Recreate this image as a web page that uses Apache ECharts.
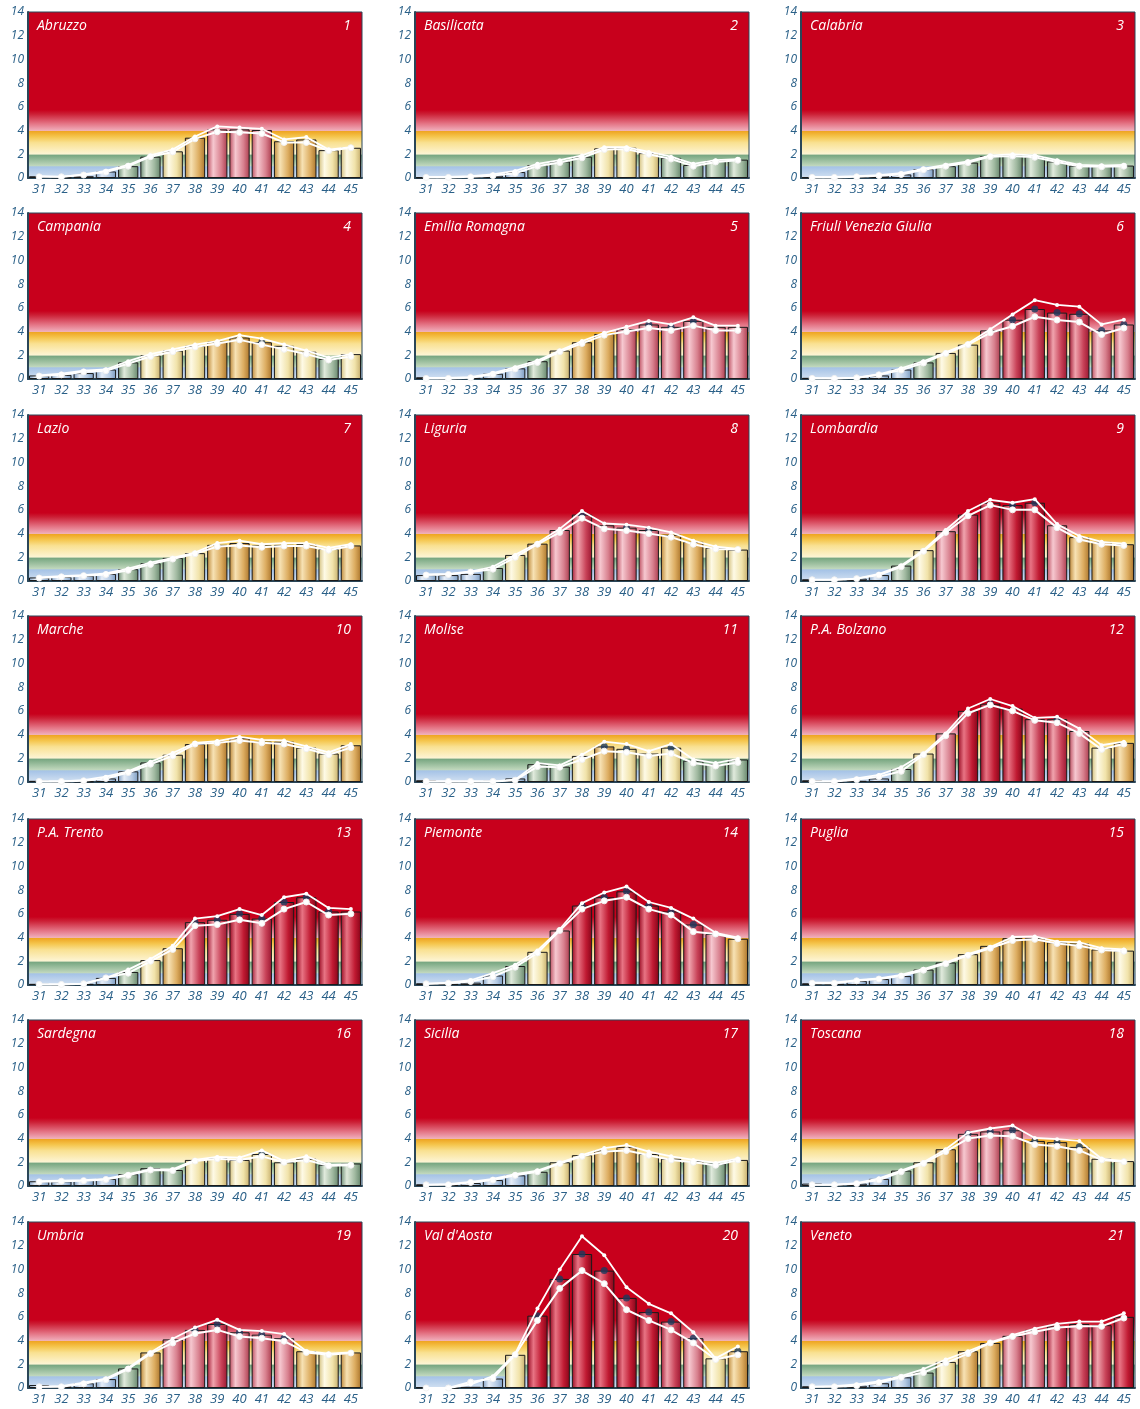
<!DOCTYPE html>
<html>
<head>
<meta charset="utf-8">
<script src="https://cdn.jsdelivr.net/npm/echarts@6/dist/echarts.min.js"></script>
<style>
html,body{margin:0;padding:0;background:#ffffff;}
#chart{width:1140px;height:1409px;}
</style>
</head>
<body>
<div id="chart"></div>
<script>
// ---------- DATA ----------
const weeks = ['31','32','33','34','35','36','37','38','39','40','41','42','43','44','45'];
const yTicks = [0, 2, 4, 6, 8, 10, 12, 14];

const abruzzoBars  = [0.15,0.05,0.15,0.55,1.0,1.8,2.25,3.4,4.1,4.1,4.05,3.1,3.25,2.35,2.55];
const abruzzoUpper = [0.15,0.1,0.3,0.6,1.1,1.9,2.4,3.5,4.35,4.25,4.15,3.25,3.45,2.4,2.6];
const abruzzoLower = [0.1,0.1,0.25,0.5,1.0,1.8,2.2,3.3,3.9,3.85,3.75,3.0,3.0,2.3,2.55];

const basilicataBars  = [0.05,0.05,0.1,0.2,0.5,1.1,1.4,1.8,2.5,2.55,2.1,1.7,1.1,1.45,1.55];
const basilicataUpper = [0.1,0.1,0.15,0.3,0.6,1.2,1.5,1.9,2.6,2.6,2.2,1.8,1.2,1.5,1.6];
const basilicataLower = [0.05,0.05,0.1,0.2,0.4,1.0,1.3,1.7,2.4,2.45,2.0,1.6,1.0,1.35,1.5];

const calabriaBars  = [0.05,0.05,0.1,0.2,0.3,0.75,1.0,1.3,1.85,1.9,1.8,1.4,1.05,1.0,1.05];
const calabriaUpper = [0.1,0.1,0.15,0.25,0.4,0.8,1.1,1.4,1.9,2.0,1.9,1.5,1.1,1.05,1.1];
const calabriaLower = [0.05,0.05,0.1,0.2,0.3,0.7,1.0,1.3,1.8,1.85,1.75,1.35,1.0,0.95,1.0];

const campaniaBars  = [0.3,0.35,0.5,0.8,1.4,2.0,2.4,2.8,3.15,3.5,3.1,2.8,2.3,1.7,2.1];
const campaniaUpper = [0.3,0.45,0.7,0.8,1.5,2.1,2.5,2.9,3.2,3.7,3.4,2.9,2.4,1.8,2.1];
const campaniaLower = [0.25,0.35,0.6,0.7,1.3,1.9,2.3,2.7,3.0,3.3,2.9,2.5,2.1,1.6,1.9];

const emiliaBars  = [0.15,0.05,0.1,0.45,0.9,1.5,2.4,3.1,3.8,4.2,4.6,4.4,4.9,4.4,4.4];
const emiliaUpper = [0.1,0.1,0.15,0.5,1.0,1.55,2.4,3.2,3.9,4.4,4.9,4.6,5.2,4.5,4.5];
const emiliaLower = [0.05,0.05,0.1,0.4,0.85,1.4,2.3,3.0,3.7,4.0,4.3,4.1,4.5,4.1,4.1];

const friuliBars  = [0.1,0.05,0.1,0.3,0.8,1.4,2.2,2.9,4.1,5.0,5.9,5.6,5.5,4.1,4.6];
const friuliUpper = [0.1,0.05,0.1,0.4,0.9,1.5,2.25,3.0,4.2,5.45,6.65,6.25,6.1,4.6,5.0];
const friuliLower = [0.05,0.05,0.1,0.35,0.75,1.35,2.15,2.9,3.9,4.45,5.25,4.97,4.8,3.75,4.3];

const lazioBars  = [0.3,0.35,0.45,0.6,1.0,1.5,1.95,2.35,3.05,3.2,3.0,3.05,3.1,2.7,3.0];
const lazioUpper = [0.3,0.4,0.5,0.65,1.05,1.55,1.95,2.4,3.2,3.4,3.1,3.2,3.2,2.8,3.1];
const lazioLower = [0.25,0.35,0.45,0.55,0.9,1.4,1.85,2.3,2.9,3.0,2.85,2.95,2.95,2.6,2.95];

const liguriaBars  = [0.5,0.5,0.6,1.1,2.2,3.15,4.3,5.6,4.7,4.5,4.3,3.9,3.3,2.8,2.65];
const liguriaUpper = [0.55,0.6,0.8,1.2,2.2,3.2,4.4,5.9,4.85,4.75,4.5,4.1,3.4,2.9,2.7];
const liguriaLower = [0.5,0.55,0.75,1.0,2.0,3.1,4.1,5.3,4.4,4.25,4.0,3.7,3.1,2.7,2.65];

const lombardiaBars  = [0.15,0.1,0.2,0.5,1.3,2.6,4.2,5.6,6.6,6.4,6.6,4.7,3.7,3.3,3.1];
const lombardiaUpper = [0.1,0.1,0.2,0.6,1.3,2.6,4.3,5.9,6.85,6.6,6.9,4.8,3.8,3.3,3.15];
const lombardiaLower = [0.1,0.1,0.2,0.5,1.2,2.5,4.1,5.5,6.4,6.0,6.0,4.5,3.5,3.1,3.0];

const marcheBars  = [0.1,0.05,0.05,0.3,0.9,1.65,2.3,3.2,3.4,3.7,3.4,3.4,2.9,2.4,3.1];
const marcheUpper = [0.05,0.05,0.15,0.45,0.9,1.7,2.45,3.3,3.45,3.8,3.55,3.5,3.0,2.5,3.2];
const marcheLower = [0.05,0.05,0.1,0.3,0.8,1.5,2.2,3.2,3.3,3.5,3.3,3.2,2.8,2.3,2.9];

const moliseBars  = [0.15,0.05,0.05,0.1,0.3,1.5,1.3,2.2,3.0,2.8,2.4,2.9,1.8,1.5,1.9];
const moliseUpper = [0.05,0.05,0.05,0.05,0.2,1.6,1.4,2.3,3.4,3.2,2.6,3.2,1.9,1.6,1.95];
const moliseLower = [0.05,0.05,0.05,0.05,0.15,1.3,1.25,1.9,2.6,2.5,2.2,2.4,1.6,1.35,1.65];

const bolzanoBars  = [0.15,0.05,0.1,0.3,1.1,2.4,4.1,6.0,6.6,6.2,5.3,5.3,4.3,2.9,3.3];
const bolzanoUpper = [0.05,0.05,0.3,0.6,1.25,2.4,4.1,6.2,7.0,6.4,5.4,5.5,4.5,3.1,3.4];
const bolzanoLower = [0.05,0.05,0.2,0.45,0.9,2.3,3.9,5.8,6.5,6.0,5.2,5.0,4.1,2.75,3.2];

const trentoBars  = [0.1,0.05,0.1,0.6,1.1,2.1,3.1,5.3,5.5,6.0,5.6,7.0,7.4,6.2,6.2];
const trentoUpper = [0.05,0.05,0.1,0.6,1.3,2.2,3.3,5.6,5.8,6.4,5.9,7.4,7.7,6.5,6.4];
const trentoLower = [0.05,0.05,0.1,0.6,1.0,2.0,3.0,5.0,5.1,5.5,5.2,6.4,7.0,5.9,6.0];

const piemonteBars  = [0.15,0.1,0.2,0.8,1.6,2.8,4.6,6.7,7.4,7.9,6.7,6.2,5.1,4.3,3.9];
const piemonteUpper = [0.1,0.2,0.4,1.0,1.7,2.9,4.7,6.9,7.8,8.3,7.0,6.5,5.6,4.4,4.0];
const piemonteLower = [0.1,0.15,0.3,0.7,1.5,2.7,4.6,6.4,7.1,7.4,6.4,5.9,4.5,4.3,3.9];

const pugliaBars  = [0.15,0.1,0.35,0.5,0.75,1.3,1.9,2.6,3.3,3.95,3.95,3.6,3.5,3.0,2.9];
const pugliaUpper = [0.2,0.2,0.4,0.55,0.85,1.35,1.9,2.6,3.2,4.05,4.1,3.65,3.6,3.1,3.0];
const pugliaLower = [0.15,0.15,0.35,0.5,0.75,1.25,1.8,2.5,3.1,3.75,3.85,3.5,3.3,2.95,2.85];

const sardegnaBars  = [0.4,0.4,0.5,0.6,1.0,1.5,1.35,2.2,2.35,2.2,2.7,2.0,2.3,1.8,1.9];
const sardegnaUpper = [0.4,0.45,0.5,0.6,1.0,1.4,1.4,2.2,2.45,2.4,3.0,2.1,2.5,1.8,1.85];
const sardegnaLower = [0.35,0.4,0.45,0.55,0.9,1.35,1.3,2.1,2.3,2.2,2.5,2.0,2.2,1.7,1.75];

const siciliaBars  = [0.15,0.1,0.25,0.5,0.9,1.2,2.0,2.6,3.0,3.3,2.7,2.3,2.1,1.9,2.2];
const siciliaUpper = [0.1,0.15,0.35,0.6,1.0,1.3,1.95,2.6,3.2,3.45,2.9,2.5,2.2,1.95,2.3];
const siciliaLower = [0.1,0.1,0.3,0.5,0.9,1.2,1.9,2.5,2.9,3.0,2.6,2.2,2.0,1.75,2.2];

const toscanaBars  = [0.2,0.1,0.2,0.6,1.3,2.0,3.1,4.4,4.6,4.7,3.8,3.7,3.3,2.3,2.1];
const toscanaUpper = [0.1,0.1,0.25,0.65,1.3,2.0,3.1,4.5,4.85,5.1,4.05,3.95,3.8,2.3,2.1];
const toscanaLower = [0.1,0.1,0.2,0.5,1.2,1.9,2.9,4.0,4.25,4.2,3.5,3.35,3.0,2.2,2.05];

const umbriaBars  = [0.25,0.15,0.4,0.75,1.65,3.0,4.1,4.9,5.4,4.7,4.5,4.2,3.1,2.9,3.0];
const umbriaUpper = [0.1,0.15,0.45,0.8,1.7,3.0,4.15,5.1,5.75,4.9,4.8,4.55,3.1,2.9,3.0];
const umbriaLower = [0.1,0.1,0.35,0.7,1.6,2.9,3.8,4.6,4.9,4.35,4.2,3.95,3.0,2.8,2.95];

const aostaBars  = [0.05,0.0,0.1,0.8,2.8,6.1,9.2,11.3,9.9,7.6,6.4,5.6,4.2,2.5,3.1];
const aostaUpper = [0.0,0.0,0.3,1.0,2.9,6.7,10.0,12.8,11.2,8.5,7.1,6.3,4.7,2.5,3.5];
const aostaLower = [0.0,0.0,0.5,0.8,2.8,5.7,8.4,9.9,8.8,6.6,5.7,4.9,3.8,2.4,2.8];

const venetoBars  = [0.15,0.1,0.2,0.4,0.9,1.3,2.2,3.1,3.8,4.4,4.9,5.2,5.4,5.3,6.0];
const venetoUpper = [0.1,0.15,0.3,0.55,1.0,1.6,2.4,3.1,3.85,4.45,5.0,5.4,5.6,5.6,6.3];
const venetoLower = [0.1,0.1,0.2,0.45,0.9,1.3,2.1,2.9,3.8,4.35,4.75,5.1,5.2,5.2,5.9];

const regionNames = ['Abruzzo','Basilicata','Calabria','Campania','Emilia Romagna','Friuli Venezia Giulia',
  'Lazio','Liguria','Lombardia','Marche','Molise','P.A. Bolzano','P.A. Trento','Piemonte','Puglia',
  'Sardegna','Sicilia','Toscana','Umbria',"Val d'Aosta",'Veneto'];
const regionNumbers = ['1','2','3','4','5','6','7','8','9','10','11','12','13','14','15','16','17','18','19','20','21'];

const panelBars  = [abruzzoBars,basilicataBars,calabriaBars,campaniaBars,emiliaBars,friuliBars,lazioBars,liguriaBars,lombardiaBars,marcheBars,moliseBars,bolzanoBars,trentoBars,piemonteBars,pugliaBars,sardegnaBars,siciliaBars,toscanaBars,umbriaBars,aostaBars,venetoBars];
const panelUpper = [abruzzoUpper,basilicataUpper,calabriaUpper,campaniaUpper,emiliaUpper,friuliUpper,lazioUpper,liguriaUpper,lombardiaUpper,marcheUpper,moliseUpper,bolzanoUpper,trentoUpper,piemonteUpper,pugliaUpper,sardegnaUpper,siciliaUpper,toscanaUpper,umbriaUpper,aostaUpper,venetoUpper];
const panelLower = [abruzzoLower,basilicataLower,calabriaLower,campaniaLower,emiliaLower,friuliLower,lazioLower,liguriaLower,lombardiaLower,marcheLower,moliseLower,bolzanoLower,trentoLower,piemonteLower,pugliaLower,sardegnaLower,siciliaLower,toscanaLower,umbriaLower,aostaLower,venetoLower];

// ---------- STYLE ----------
const YMAX = 14;
const off = v => (YMAX - v) / YMAX;
const LG = echarts.graphic.LinearGradient;

function bgGradient() {
  return new LG(0, 0, 0, 1, [
    {offset: 0, color: '#c8001c'},
    {offset: off(5.75), color: '#c8001c'},
    {offset: off(5.4), color: '#cc2036'},
    {offset: off(5.0), color: '#d84a5e'},
    {offset: off(4.6), color: '#e47485'},
    {offset: off(4.12), color: '#eea4b2'},
    {offset: off(4.0), color: '#f0b4b4'},
    {offset: off(4.0), color: '#eea21e'},
    {offset: off(3.5), color: '#f5c64e'},
    {offset: off(3.0), color: '#f9e192'},
    {offset: off(2.02), color: '#fdf5d6'},
    {offset: off(2.0), color: '#74a47e'},
    {offset: off(1.02), color: '#c4dac0'},
    {offset: off(1.0), color: '#a4c2e6'},
    {offset: 1, color: '#d4e2f2'}
  ]);
}

const barPalettes = [
  {max: 1,   c: ['#7f9fc4', '#e6eef8', '#b3c9e3', '#7b9bc0']},
  {max: 2,   c: ['#6c8c74', '#e0eadc', '#a0b9a0', '#66866c']},
  {max: 3,   c: ['#d2be7a', '#fefae6', '#f1e3aa', '#c6ae6c']},
  {max: 4,   c: ['#bc8636', '#f7e2b4', '#dcac60', '#ac762c']},
  {max: 5,   c: ['#bc4c5e', '#f6c8d0', '#d8808e', '#ac3c4e']},
  {max: 6,   c: ['#a41c36', '#f0a4ae', '#c84258', '#9a1630']},
  {max: 99,  c: ['#960820', '#e87484', '#c01a32', '#860418']}
];
function barColor(v) {
  const p = barPalettes.find(b => v < b.max).c;
  return new LG(0, 0, 1, 0, [
    {offset: 0, color: p[0]},
    {offset: 0.3, color: p[1]},
    {offset: 0.7, color: p[2]},
    {offset: 1, color: p[3]}
  ]);
}

const colLefts = [28, 415, 801];
const rowTops = [12, 213, 415, 616, 819, 1020, 1222];
const GW = 334, GH = 166;
const axisCol = '#2a4658';
const labelCol = '#2a6088';
const FONT = "'Open Sans', sans-serif";

const grids = [], xAxes = [], yAxes = [], series = [], titles = [];

regionNames.forEach((name, i) => {
  const col = i % 3, row = Math.floor(i / 3);
  const left = colLefts[col], top = rowTops[row];
  grids.push({
    left: left, top: top, width: GW, height: GH,
    show: true, backgroundColor: bgGradient(),
    borderColor: axisCol, borderWidth: 1
  });
  xAxes.push({
    type: 'category', gridIndex: i, data: weeks, boundaryGap: true,
    axisLine: {lineStyle: {color: axisCol, width: 2}},
    axisTick: {show: false},
    axisLabel: {color: labelCol, fontSize: 13, fontStyle: 'italic', fontFamily: FONT, margin: 5, interval: 0}
  });
  yAxes.push({
    type: 'value', gridIndex: i, min: 0, max: YMAX, interval: 2,
    axisLine: {show: true, lineStyle: {color: axisCol, width: 2}},
    axisTick: {show: false},
    splitLine: {show: false},
    axisLabel: {color: labelCol, fontSize: 12, fontStyle: 'italic', fontFamily: FONT, margin: 4,
      formatter: v => yTicks.indexOf(v) >= 0 ? String(v) : ''}
  });

  const bars = panelBars[i], up = panelUpper[i], lo = panelLower[i];
  series.push({
    type: 'bar', xAxisIndex: i, yAxisIndex: i, barCategoryGap: '9%', z: 2,
    data: bars.map(v => ({value: v, itemStyle: {color: barColor(v)}})),
    itemStyle: {borderColor: '#1a1a1a', borderWidth: 1},
    silent: true
  });
  series.push({
    type: 'scatter', xAxisIndex: i, yAxisIndex: i, z: 3, symbolSize: 7,
    itemStyle: {color: '#1c3a5e'},
    data: bars.map((v, k) => (up[k] - lo[k] >= 0.5 ? v : null)),
    silent: true
  });
  series.push({
    type: 'line', xAxisIndex: i, yAxisIndex: i, z: 4, data: lo,
    symbol: 'circle', symbolSize: 6, showSymbol: true,
    lineStyle: {color: '#ffffff', width: 2},
    itemStyle: {color: '#ffffff', borderColor: '#f2f2f2'},
    silent: true
  });
  series.push({
    type: 'line', xAxisIndex: i, yAxisIndex: i, z: 5, data: up,
    symbol: 'circle', symbolSize: 4, showSymbol: true,
    lineStyle: {color: '#ffffff', width: 1.8},
    itemStyle: {color: '#ffffff'},
    silent: true
  });

  titles.push({
    text: name, left: left + 4, top: top + 2,
    textStyle: {color: '#ffffff', fontSize: 14, fontStyle: 'italic', fontWeight: 'normal', fontFamily: FONT}
  });
  titles.push({
    text: regionNumbers[i], right: 1140 - (left + GW) + 6, top: top + 2,
    textStyle: {color: '#ffffff', fontSize: 14, fontStyle: 'italic', fontWeight: 'normal', fontFamily: FONT}
  });
});

const chart = echarts.init(document.getElementById('chart'), null, {renderer: 'canvas'});
chart.setOption({
  animation: false,
  backgroundColor: '#ffffff',
  title: titles,
  grid: grids,
  xAxis: xAxes,
  yAxis: yAxes,
  series: series
});
</script>
</body>
</html>
